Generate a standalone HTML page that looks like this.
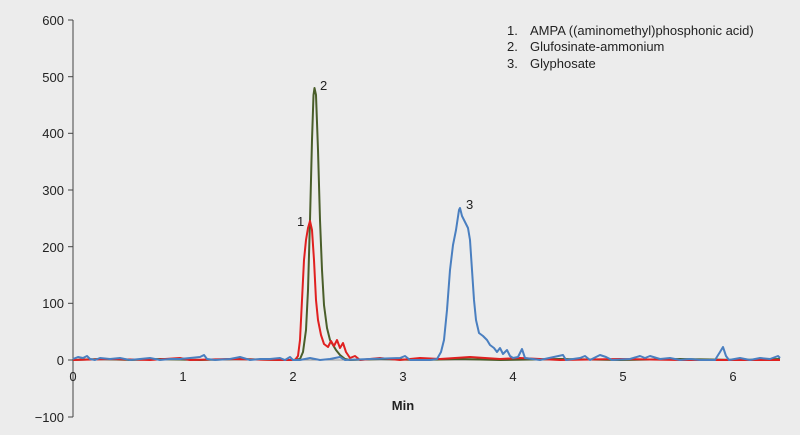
<!DOCTYPE html>
<html><head><style>
body{margin:0;background:#ececec;}
svg{display:block;font-family:"Liberation Sans",sans-serif;}
</style></head><body>
<svg width="800" height="435" viewBox="0 0 800 435">
<rect width="800" height="435" fill="#ececec"/>
<g stroke="#444" stroke-width="1" fill="none">
<line x1="73" y1="20" x2="73" y2="417"/>
<line x1="68" y1="20" x2="73" y2="20"/>
<line x1="68" y1="76.7" x2="73" y2="76.7"/>
<line x1="68" y1="133.3" x2="73" y2="133.3"/>
<line x1="68" y1="190" x2="73" y2="190"/>
<line x1="68" y1="246.7" x2="73" y2="246.7"/>
<line x1="68" y1="303.3" x2="73" y2="303.3"/>
<line x1="68" y1="360" x2="73" y2="360"/>
<line x1="68" y1="417" x2="73" y2="417"/>
</g>
<line x1="73" y1="360" x2="780" y2="360" stroke="#999" stroke-width="1"/>
<g font-size="13" fill="#222" text-anchor="end">
<text x="64" y="25">600</text><text x="64" y="82">500</text><text x="64" y="138">400</text>
<text x="64" y="195">300</text><text x="64" y="252">200</text><text x="64" y="308">100</text>
<text x="64" y="365">0</text><text x="64" y="422">−100</text>
</g>
<g font-size="13" fill="#222" text-anchor="middle">
<text x="73" y="381">0</text><text x="183" y="381">1</text><text x="293" y="381">2</text>
<text x="403" y="381">3</text><text x="513" y="381">4</text><text x="623" y="381">5</text><text x="733" y="381">6</text>
<text x="403" y="410" font-weight="bold">Min</text>
</g>
<g fill="none" stroke-width="2" stroke-linejoin="round">
<polyline stroke="#4a5e2a" points="73,360 100,359 130,360 160,359 200,360 240,359 280,360 293,360 300,359 303,352 306,330 308,290 310,220 312,140 313.5,95 314.5,88 316,95 318,150 320,220 322,270 324,305 327,328 330,340 333,345 336,350 340,355 345,359 350,360 380,359 420,360 460,359 500,360 560,359 620,360 680,359 740,360 780,359"/>
<polyline stroke="#e02020" points="73,360 110,359 150,360 180,358 190,360 230,359 280,360 295,360 298,356 300,340 302,300 304,260 306,240 308,228 310,221 312,230 314,260 316,300 318,320 321,335 324,344 328,347 331,341 334,346 337,340 340,348 343,343 346,352 350,358 355,356 360,360 380,358 400,360 420,358 440,359 470,357 500,359 520,358 560,360 620,359 680,360 780,360"/>
<polyline stroke="#4a7fc0" points="73,359 78,357 83,358 87,356 90,359 95,360 100,358 110,359 120,358 130,360 140,359 150,358 160,360 170,359 180,359 190,358 200,357 204,355 207,359 215,360 230,359 240,357 250,360 260,359 270,359 280,358 285,360 290,357 293,360 300,360 310,358 320,360 330,359 340,357 345,360 370,359 400,358 405,356 410,360 430,360 437,359 441,352 444,340 447,310 450,270 453,245 456,230 459,210 460,208 462,216 465,222 468,228 470,240 472,270 474,300 476,320 479,333 483,336 487,340 490,345 494,348 497,352 500,348 503,354 507,350 510,356 513,358 518,357 522,349 525,358 540,360 563,355 566,360 580,358 585,356 590,360 600,355 606,357 612,360 630,359 640,356 645,358 650,356 660,359 670,358 680,360 690,359 700,360 715,360 720,352 723,347 726,356 729,360 740,358 750,360 760,358 770,359 778,356 780,358"/>
</g>
<g font-size="13" fill="#222">
<text x="297" y="226">1</text><text x="320" y="90">2</text><text x="466" y="209">3</text>
</g>
<g font-size="13" fill="#222">
<text x="507" y="35">1.</text><text x="530" y="35">AMPA ((aminomethyl)phosphonic acid)</text>
<text x="507" y="51">2.</text><text x="530" y="51">Glufosinate-ammonium</text>
<text x="507" y="68">3.</text><text x="530" y="68">Glyphosate</text>
</g>
</svg>
</body></html>
